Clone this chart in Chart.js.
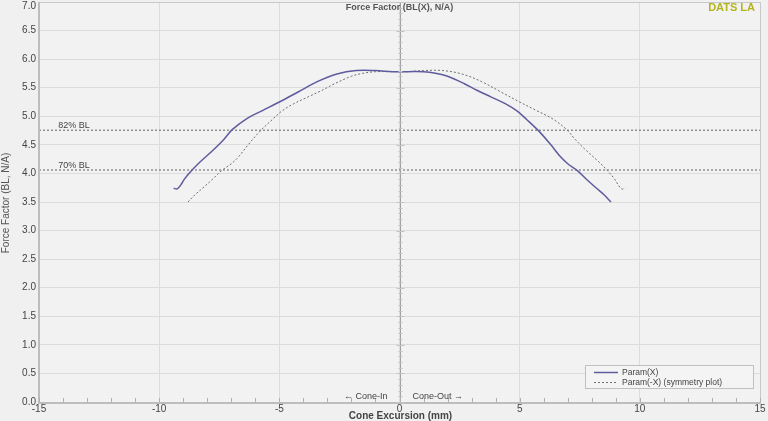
<!DOCTYPE html>
<html>
<head>
<meta charset="utf-8">
<script src="https://cdn.jsdelivr.net/npm/chart.js@4/dist/chart.umd.min.js"></script>
<style>
html,body{margin:0;padding:0;background:#f0f0f0;}
#wrap{width:768px;height:421px;position:relative;}
</style>
</head>
<body>
<div id="wrap"><canvas id="c" width="768" height="421"></canvas></div>
<script>
// ---- Data ----
const paramXExcursion = [-9.40,-9.25,-9.10,-8.95,-8.65,-8.30,-7.75,-7.30,-6.95,-6.35,-5.70,-5.00,-4.20,-3.40,-2.60,-1.80,-1.00,-0.30,0.00,1.00,1.55,2.00,2.70,3.20,3.80,4.40,4.90,5.30,5.80,6.30,6.70,7.00,7.40,7.80,8.20,8.50,8.80];
const paramXBL        = [3.74,3.73,3.80,3.90,4.05,4.20,4.41,4.60,4.77,4.96,5.10,5.25,5.43,5.61,5.74,5.80,5.80,5.78,5.78,5.78,5.75,5.70,5.57,5.46,5.34,5.22,5.09,4.94,4.74,4.50,4.29,4.17,4.05,3.89,3.74,3.63,3.50];
const symExcursion    = [-8.80,-8.50,-8.20,-7.80,-7.40,-7.00,-6.70,-6.30,-5.80,-5.30,-4.90,-4.40,-3.80,-3.20,-2.70,-2.00,-1.55,-1.00,0.00,0.30,1.00,1.80,2.60,3.40,4.20,5.00,5.70,6.35,6.95,7.30,7.75,8.30,8.65,8.95,9.10,9.25,9.40];
const symBL           = [3.50,3.63,3.74,3.89,4.05,4.17,4.29,4.50,4.74,4.94,5.09,5.22,5.34,5.46,5.57,5.70,5.75,5.78,5.78,5.78,5.80,5.80,5.74,5.61,5.43,5.25,5.10,4.96,4.77,4.60,4.41,4.20,4.05,3.90,3.80,3.73,3.74];
const refLabels = ['82% BL','70% BL'];
const refLevels = [4.756, 4.06];
const xTickValues = [-15,-10,-5,0,5,10,15];
const yMin = 0, yMax = 7, yStep = 0.5;
const seriesNames = ['Param(X)','Param(-X) (symmetry plot)'];

const toXY = (xs, ys) => xs.map((x,i)=>({x:x, y:ys[i]}));

const FONT = '"Liberation Sans", Arial, sans-serif';

const decor = {
  id:'decor',
  beforeDraw(chart){
    const {ctx, chartArea:a} = chart;
    ctx.save();
    ctx.fillStyle = '#f0f0f0';
    ctx.fillRect(0,0,chart.width,chart.height);
    ctx.fillStyle = '#f2f2f2';
    ctx.fillRect(a.left,a.top,a.right-a.left,a.bottom-a.top);
    ctx.restore();
  },
  afterDatasetsDraw(chart){
    const {ctx, chartArea:a, scales:{x,y}} = chart;
    ctx.save();
    // plot border
    ctx.strokeStyle = '#c8c8c8'; ctx.lineWidth = 1;
    ctx.beginPath();
    ctx.moveTo(a.left, a.top+0.5); ctx.lineTo(a.right+0.5, a.top+0.5); ctx.lineTo(a.right+0.5, a.bottom);
    ctx.stroke();
    ctx.strokeStyle = '#bdbdbd'; ctx.lineWidth = 2;
    ctx.beginPath();
    ctx.moveTo(a.left, a.top); ctx.lineTo(a.left, a.bottom+1); ctx.lineTo(a.right+1, a.bottom+1);
    ctx.stroke();
    // centre axis with minor ticks
    const x0 = Math.round(x.getPixelForValue(0))+0.5;
    ctx.strokeStyle = '#a0a0a0'; ctx.lineWidth = 1;
    ctx.beginPath(); ctx.moveTo(x0,a.top); ctx.lineTo(x0,a.bottom); ctx.stroke();
    ctx.strokeStyle = '#c4c4c4';
    ctx.beginPath();
    for(let v=yMin; v<=yMax+1e-9; v+=0.1){
      const py = Math.round(y.getPixelForValue(v))+0.5;
      const big = Math.abs(v*2-Math.round(v*2))<1e-6;
      const w = big?4:2;
      ctx.moveTo(x0-w,py); ctx.lineTo(x0+w,py);
    }
    ctx.stroke();
    // bottom minor ticks every 1 unit
    ctx.strokeStyle = '#b0b0b0';
    ctx.beginPath();
    for(let v=-15; v<=15; v++){
      const px = Math.round(x.getPixelForValue(v))+0.5;
      ctx.moveTo(px,a.bottom); ctx.lineTo(px,a.bottom-4);
    }
    ctx.stroke();
    // top y tick label (kept inside the canvas)
    ctx.fillStyle = '#444'; ctx.font = '10px '+FONT; ctx.textAlign='right'; ctx.textBaseline='middle';
    ctx.fillText(yMax.toFixed(1), a.left-3, 6);
    // reference labels
    ctx.fillStyle = '#444'; ctx.font = '9px '+FONT;
    ctx.textAlign = 'left'; ctx.textBaseline = 'alphabetic';
    refLevels.forEach((v,i)=>{
      ctx.fillText(refLabels[i], x.getPixelForValue(-14.2), y.getPixelForValue(v)-2);
    });
    // title
    ctx.fillStyle = '#555'; ctx.font = 'bold 9px '+FONT; ctx.textAlign='center'; ctx.textBaseline='middle';
    ctx.fillText('Force Factor (BL(X), N/A)', x.getPixelForValue(0), 8);
    // DATS LA
    ctx.fillStyle = '#b4b41e'; ctx.font = 'bold 11px '+FONT; ctx.textAlign='right';
    ctx.fillText('DATS LA', a.right-5, 8);
    // cone in / out
    ctx.fillStyle = '#444'; ctx.font = '9px '+FONT; ctx.textBaseline='middle';
    ctx.textAlign='right'; ctx.fillText('\u2190 Cone-In', x0-13, a.bottom-5);
    ctx.textAlign='left'; ctx.fillText('Cone-Out \u2192', x0+12, a.bottom-5);
    // axis titles
    ctx.fillStyle = '#444'; ctx.font = 'bold 10px '+FONT; ctx.textAlign='center';
    ctx.fillText('Cone Excursion (mm)', x0, 416);
    ctx.save();
    ctx.translate(6, 203); ctx.rotate(-Math.PI/2);
    ctx.font = '10px '+FONT; ctx.fillStyle='#555';
    ctx.fillText('Force Factor (BL, N/A)', 0, 0);
    ctx.restore();
    // legend
    const lx = 585, ly = 365, lw = 168, lh = 23;
    ctx.fillStyle = '#f4f4f4'; ctx.fillRect(lx,ly,lw,lh);
    ctx.strokeStyle = '#c0c0c0'; ctx.lineWidth=1; ctx.strokeRect(lx+0.5,ly+0.5,lw,lh);
    const ds = chart.data.datasets;
    [0,1].forEach(i=>{
      const yy = ly+7+i*10;
      ctx.strokeStyle = ds[i].borderColor; ctx.lineWidth = ds[i].borderWidth;
      ctx.setLineDash(ds[i].borderDash||[]);
      ctx.beginPath(); ctx.moveTo(lx+9,yy+0.5); ctx.lineTo(lx+33,yy+0.5); ctx.stroke();
      ctx.setLineDash([]);
      ctx.fillStyle='#444'; ctx.font='8.5px '+FONT; ctx.textAlign='left'; ctx.textBaseline='middle';
      ctx.fillText(ds[i].label, lx+37, yy+1);
    });
    ctx.restore();
  }
};

const refDatasets = refLevels.map((v,i)=>({
  label: refLabels[i],
  data: [{x:-15,y:v},{x:15,y:v}],
  borderColor:'#7a7a7a', borderWidth:1.2, borderDash:[2,2],
  pointRadius:0, tension:0, fill:false
}));

new Chart(document.getElementById('c'), {
  type:'line',
  data:{
    datasets:[
      {label:seriesNames[0], data:toXY(paramXExcursion,paramXBL), borderColor:'#5f5c9e', borderWidth:1.5, pointRadius:0, tension:0.35, fill:false},
      {label:seriesNames[1], data:toXY(symExcursion,symBL), borderColor:'#6e6e6e', borderWidth:1, borderDash:[2,2], pointRadius:0, tension:0.35, fill:false},
      ...refDatasets
    ]
  },
  plugins:[decor],
  options:{
    responsive:false, animation:false,
    layout:{padding:{top:2,right:8,left:0,bottom:0}},
    plugins:{legend:{display:false}, tooltip:{enabled:false}, title:{display:false}},
    scales:{
      x:{type:'linear', min:-15, max:15,
         afterFit(s){ s.height = 19; s.paddingLeft = 0; s.paddingRight = 0; },
         afterBuildTicks(s){ s.ticks = xTickValues.map(v=>({value:v})); },
         grid:{color:'#dcdcdc', drawTicks:false, lineWidth:1},
         border:{display:false},
         ticks:{padding:1, color:'#444', font:{family:FONT,size:10}, maxRotation:0, autoSkip:false}},
      y:{min:yMin, max:yMax,
         afterFit(s){ s.width = 39; s.paddingTop = 0; s.paddingBottom = 0; },
         grid:{color:'#dcdcdc', drawTicks:false, lineWidth:1},
         border:{display:false},
         ticks:{stepSize:yStep, padding:3, color:'#444', font:{family:FONT,size:10},
                callback:(v)=> (v >= yMax ? '' : Number(v).toFixed(1))}}
    }
  }
});
</script>
</body>
</html>
